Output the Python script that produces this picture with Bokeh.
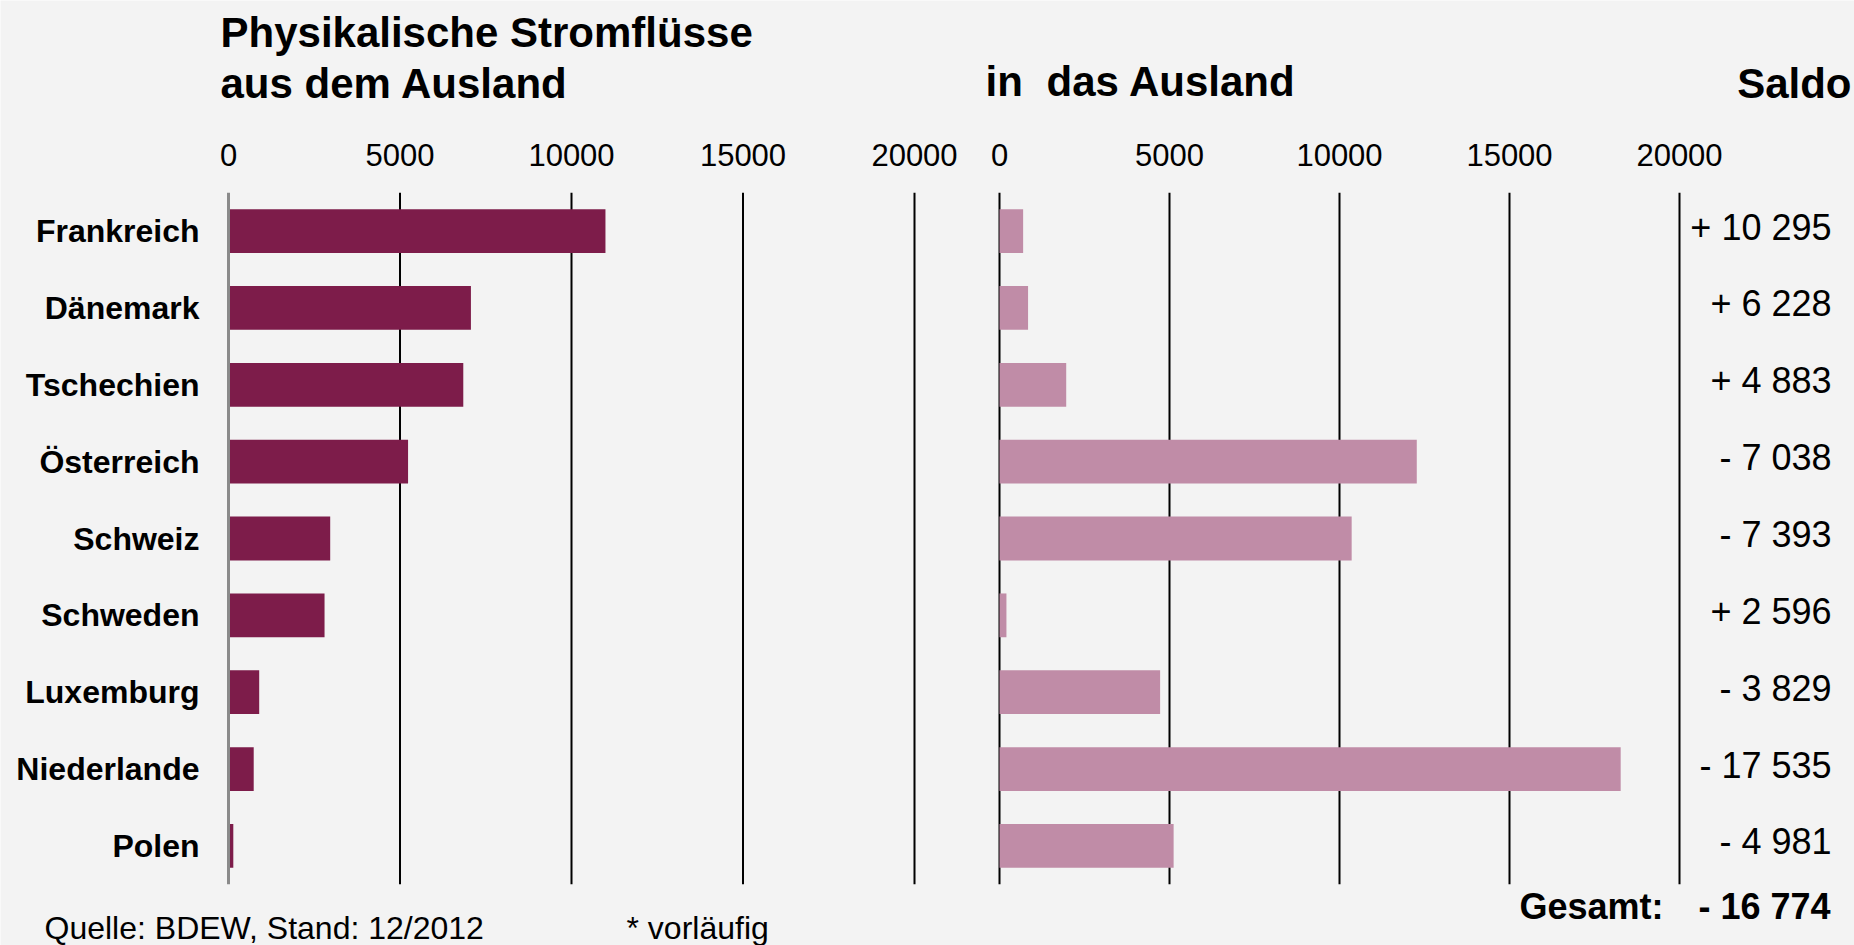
from bokeh.plotting import figure
from bokeh.models import Range1d, ColumnDataSource
from bokeh.core.properties import value
from bokeh.embed import file_html
from bokeh.resources import INLINE

# ---------------- data ----------------
countries = ["Frankreich", "Dänemark", "Tschechien", "Österreich", "Schweiz",
             "Schweden", "Luxemburg", "Niederlande", "Polen"]
imports = [10990, 7068, 6845, 5235, 2965, 2800, 895, 735, 140]      # aus dem Ausland
exports = [695, 840, 1962, 12273, 10358, 204, 4724, 18270, 5121]     # in das Ausland
saldo_labels = ["+ 10 295", "+ 6 228", "+ 4 883", "- 7 038", "- 7 393",
                "+ 2 596", "- 3 829", "- 17 535", "- 4 981"]
total_label = "- 16 774"
ticks = [0, 5000, 10000, 15000, 20000]
tick_labels = ["0", "5000", "10000", "15000", "20000"]

# ---------------- styling / layout (page pixels) ----------------
FONT = "Liberation Sans"
BG = "#f3f3f3"
DARK = "#7d1c4a"
LIGHT = "#c08ca7"

W, H = 1854, 945
ORIGIN = 0
L_ZERO, L_MAX = 228, 914            # left panel: page x of 0 and 20000
R_ZERO, R_MAX = 999, 1679           # right panel
ROW_TOP, ROW_BOTTOM = 230.6, 845.4  # page y of first and last category centre
N = len(countries)

kL = (L_MAX - L_ZERO) / 20000.0
kR = (R_MAX - R_ZERO) / 20000.0
ky = (ROW_BOTTOM - ROW_TOP) / (N - 1)


def xl(px):      # page x -> left-panel data
    return (px - L_ZERO) / kL


def xr(px):      # page x -> right-panel data
    return (px - R_ZERO) / kR


def yy(py):      # page y -> row units (Polen = 0, Frankreich = N-1)
    return (N - 1) - (py - ROW_TOP) / ky


ypos = [N - 1 - i for i in range(N)]
src = ColumnDataSource(dict(country=countries, y=ypos, imp=imports, exp=exports,
                            saldo=saldo_labels))

p = figure(width=W, height=H, output_backend="svg", toolbar_location=None,
           x_range=Range1d(xl(ORIGIN), xl(ORIGIN + W)),
           y_range=Range1d(yy(ORIGIN + H), yy(ORIGIN)),
           min_border=0, background_fill_color=BG, border_fill_color=BG,
           outline_line_color=None, x_axis_location=None, y_axis_location=None)
p.extra_x_ranges = {"right": Range1d(xr(ORIGIN), xr(ORIGIN + W))}
p.xgrid.visible = False
p.ygrid.visible = False

y_lo, y_hi = -0.5, N - 0.5

# grid lines
black_ticks = ticks[1:]
p.segment(x0=black_ticks, x1=black_ticks, y0=[y_lo] * len(black_ticks), y1=[y_hi] * len(black_ticks),
          line_color="#000000", line_width=2)
p.segment(x0=ticks, x1=ticks, y0=[y_lo] * len(ticks), y1=[y_hi] * len(ticks),
          line_color="#000000", line_width=2, x_range_name="right")

# bars
p.hbar(y="y", left=0, right="imp", height=0.57, source=src, fill_color=DARK, line_color=None)
p.hbar(y="y", left=0, right="exp", height=0.57, source=src, fill_color=LIGHT, line_color=None,
       x_range_name="right")
p.segment(x0=ticks[:1], x1=ticks[:1], y0=[y_lo], y1=[y_hi], line_color="#8a8a8a", line_width=3)

txt = dict(text_font=value(FONT), text_color="#000000", text_baseline="middle")

# tick labels
tick_y = [yy(154)] * len(ticks)
p.text(x=ticks, y=tick_y, text=tick_labels, text_font_size="31px", text_align="center", **txt)
p.text(x=ticks, y=tick_y, text=tick_labels, text_font_size="31px", text_align="center",
       x_range_name="right", **txt)

# country labels
p.text(x=xl(199), y="y", text="country", source=src, text_font_size="32px",
       text_font_style="bold", text_align="right", **txt)

# saldo values
p.text(x=xr(1831), y="y", text="saldo", source=src, text_font_size="36px",
       text_align="right", y_offset=-4, x_range_name="right", **txt)

# titles
p.text(x=[xl(220)], y=[yy(32)], text=["Physikalische Stromflüsse"], text_font_size="42px",
       text_font_style="bold", **txt)
p.text(x=[xl(220)], y=[yy(83)], text=["aus dem Ausland"], text_font_size="42px",
       text_font_style="bold", **txt)
p.text(x=[xr(985)], y=[yy(81)], text=["in"], text_font_size="42px",
       text_font_style="bold", x_range_name="right", **txt)
p.text(x=[xr(1046)], y=[yy(81)], text=["das Ausland"], text_font_size="42px",
       text_font_style="bold", x_range_name="right", **txt)
p.text(x=[xr(1851)], y=[yy(83)], text=["Saldo"], text_font_size="42px", text_align="right",
       text_font_style="bold", x_range_name="right", **txt)

# total
p.text(x=[xr(1663)], y=[yy(906)], text=["Gesamt:"], text_font_size="36px",
       text_align="right", text_font_style="bold", x_range_name="right", **txt)
p.text(x=[xr(1830)], y=[yy(906)], text=[total_label], text_font_size="36px",
       text_align="right", text_font_style="bold", x_range_name="right", **txt)

# footer
p.text(x=[xl(44)], y=[yy(927)], text=["Quelle: BDEW, Stand: 12/2012"], text_font_size="32px", **txt)
p.text(x=[xl(626)], y=[yy(927)], text=["* vorläufig"], text_font_size="32px", **txt)

open("out.html", "w").write(file_html(p, INLINE))
